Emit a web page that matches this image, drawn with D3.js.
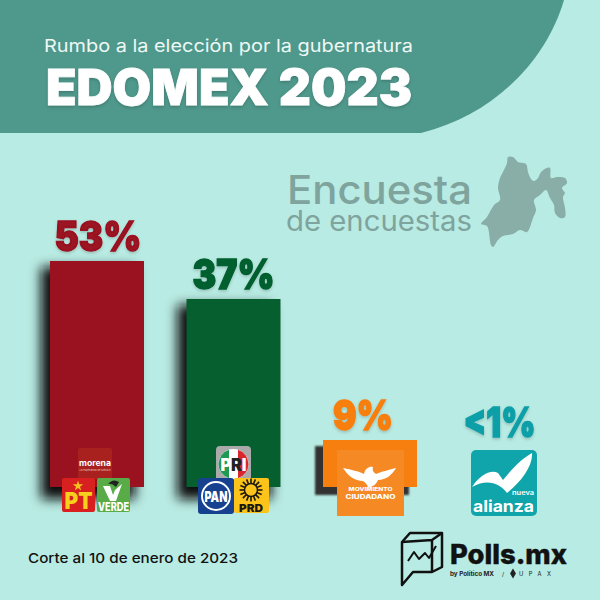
<!DOCTYPE html>
<html>
<head>
<meta charset="utf-8">
<script src="https://cdn.jsdelivr.net/npm/d3@7"></script>
<style>
html, body { margin: 0; padding: 0; background: #b8ebe3; }
svg { display: block; }
text { font-family: Inter, "Open Sans", sans-serif; }
</style>
</head>
<body>
<script>
var parties = ['morena', 'pri', 'mc', 'alianza'];
var values = [53, 37, 9, 0.5];
var labels = ['53%', '37%', '9%', '<1%'];

var barColors = ['#9a1220', '#065f2e', '#f77f0f', '#0f9fa8'];
var labelWidths = [87, 82, 60, 72];

var mapOutline = [[508,157],[513,157],[518,162],[526,164],[528,172],[531,179],[534,181],[538,178],[541,172],[547,168],[550,168],[551,178],[557,177],[565,178],[567,183],[562,188],[565,193],[563,197],[565,208],[565,217],[560,218],[555,213],[554,205],[550,198],[546,190],[540,195],[534,200],[536,210],[533,218],[527,232],[520,230],[513,234],[503,236],[498,240],[493,247],[491,245],[487,226],[481,224],[487,217],[494,205],[500,200],[498,188],[500,178],[503,172],[507,163]];

var width = 600, height = 600;

var svg = d3.select('body').append('svg')
	.attr('width', width)
	.attr('height', height);

var defs = svg.append('defs');
defs.append('filter').attr('id', 'soft')
	.attr('x', '-30%').attr('y', '-30%').attr('width', '160%').attr('height', '160%')
	.append('feGaussianBlur').attr('stdDeviation', 6);
defs.append('filter').attr('id', 'tight')
	.attr('x', '-30%').attr('y', '-30%').attr('width', '160%').attr('height', '160%')
	.append('feGaussianBlur').attr('stdDeviation', 1);
defs.append('filter').attr('id', 'textshadow')
	.append('feDropShadow').attr('dx', 0).attr('dy', 1.5).attr('stdDeviation', 1.5)
	.attr('flood-color', '#000').attr('flood-opacity', 0.2);

// header
svg.append('rect').attr('width', width).attr('height', height).attr('fill', '#b8ebe3');
svg.append('path')
	.attr('d', 'M0,0 H564 C547,58 497,114 421,133 H0 Z')
	.attr('fill', '#4f988c');

svg.append('text').attr('x', 44).attr('y', 52)
	.attr('font-size', 17.5).attr('fill', '#eef8f5')
	.attr('textLength', 369).attr('lengthAdjust', 'spacingAndGlyphs')
	.text('Rumbo a la elección por la gubernatura');
svg.append('text').attr('x', 46).attr('y', 105)
	.attr('font-size', 49).attr('font-weight', 900).attr('fill', '#fff')
	.attr('stroke', '#fff').attr('stroke-width', 0.8)
	.attr('textLength', 366).attr('lengthAdjust', 'spacingAndGlyphs')
	.attr('filter', 'url(#textshadow)')
	.text('EDOMEX 2023');

// encuesta de encuestas + mapa
svg.append('text').attr('x', 287).attr('y', 204)
	.attr('font-size', 40).attr('font-weight', 500).attr('fill', '#7fa39d')
	.attr('textLength', 185).attr('lengthAdjust', 'spacingAndGlyphs')
	.text('Encuesta');
svg.append('text').attr('x', 286).attr('y', 231)
	.attr('font-size', 28).attr('font-weight', 400).attr('fill', '#7fa39d')
	.attr('textLength', 186).attr('lengthAdjust', 'spacingAndGlyphs')
	.text('de encuestas');
svg.append('path')
	.attr('d', d3.line().curve(d3.curveCatmullRomClosed)(mapOutline))
	.attr('fill', '#88aea7');

// scales (the bars in the picture are not proportional, so y follows them piece by piece)
var x = d3.scaleBand().domain(parties).range([50, 553.5]).paddingInner(0.3114);
var y = d3.scaleLinear().domain([0, 9, 37, 53]).range([487, 440, 299, 261]);
var color = d3.scaleOrdinal(parties, barColors);
var labelShift = d3.scaleOrdinal(parties, [1, 0, -7, -7]);

var rows = parties.map(function(p, i) {
	return { party: p, value: values[i], label: labels[i], w: labelWidths[i] };
});
var bars = rows.filter(function(d) { return d.value >= 1; });

svg.selectAll('rect.shadow').data(bars).enter().append('rect')
	.attr('class', 'shadow')
	.attr('x', function(d) { return x(d.party) - (d.party == 'mc' ? 8 : 9); })
	.attr('y', function(d) { return y(d.value) + 6; })
	.attr('width', x.bandwidth())
	.attr('height', function(d) { return y(0) - y(d.value) + (d.party == 'mc' ? 2 : 6); })
	.attr('fill', function(d) { return d.party == 'mc' ? '#333' : '#111'; })
	.attr('filter', function(d) { return d.party == 'mc' ? 'url(#tight)' : 'url(#soft)'; });

svg.selectAll('rect.bar').data(bars).enter().append('rect')
	.attr('class', 'bar')
	.attr('x', function(d) { return x(d.party); })
	.attr('y', function(d) { return y(d.value); })
	.attr('width', x.bandwidth())
	.attr('height', function(d) { return y(0) - y(d.value); })
	.attr('fill', function(d) { return color(d.party); });

svg.selectAll('text.label').data(rows).enter().append('text')
	.attr('class', 'label')
	.attr('x', function(d) { return x(d.party) + x.bandwidth() / 2 + labelShift(d.party) - d.w / 2; })
	.attr('y', function(d) { return d.party == 'alianza' ? 437 : y(d.value) - 10; })
	.attr('font-size', 41).attr('font-weight', 900)
	.attr('fill', function(d) { return color(d.party); })
	.attr('stroke', function(d) { return color(d.party); })
	.attr('stroke-width', 1.4)
	.attr('textLength', function(d) { return d.w; })
	.attr('lengthAdjust', 'spacingAndGlyphs')
	.attr('filter', 'url(#textshadow)')
	.text(function(d) { return d.label; });

// logos
function box(g, x0, y0, w, h, fill, r) {
	return g.append('rect').attr('x', x0).attr('y', y0).attr('width', w).attr('height', h)
		.attr('rx', r).attr('fill', fill);
}
function word(g, x0, y0, size, fill, str, weight, len) {
	var t = g.append('text').attr('x', x0).attr('y', y0).attr('text-anchor', 'middle')
		.attr('font-size', size).attr('font-weight', weight || 800).attr('fill', fill).text(str);
	if (len) t.attr('textLength', len).attr('lengthAdjust', 'spacingAndGlyphs');
	return t;
}

var logos = svg.append('g');

// morena, PT, verde
box(logos, 78, 448, 34, 31, '#a8211f', 2);
word(logos, 95, 466, 8.5, '#fff', 'morena', 700, 32);
word(logos, 95, 471, 2.6, '#e8c8c8', 'La esperanza de México', 400, 31);
box(logos, 62, 478, 33, 34, '#d7201f', 2);
logos.append('path')
	.attr('d', d3.symbol().type(d3.symbolStar).size(34))
	.attr('transform', 'translate(78,486)').attr('fill', '#f6c21c');
word(logos, 78.5, 509, 23, '#f6d01c', 'PT', 900, 28);
box(logos, 97, 478, 33, 34, '#58ab47', 2);
logos.append('path').attr('d', 'M103,486 L110,501 L116,501 L122,484 L115,490 L113,495 L110,486 Z').attr('fill', '#fff');
logos.append('path').attr('d', 'M108,484 Q113,478 119,482 L116,487 Q112,483 108,484 Z').attr('fill', '#222');
word(logos, 113.5, 510.5, 11.5, '#fff', 'VERDE', 800, 31);

// PRI, PAN, PRD
box(logos, 216, 446, 35, 36, '#a9aaa9', 4);
logos.append('circle').attr('cx', 233.5).attr('cy', 464).attr('r', 15).attr('fill', '#fff');
logos.append('path').attr('d', 'M229,449.7 A15,15 0 0 0 229,478.3 Z').attr('fill', '#1f9a55');
logos.append('path').attr('d', 'M238,449.7 A15,15 0 0 1 238,478.3 Z').attr('fill', '#d8262c');
var priWord = word(logos, 233.5, 470.5, 17, '#fff', '', 900, 26);
priWord.append('tspan').text('P');
priWord.append('tspan').attr('fill', '#222').text('R');
priWord.append('tspan').text('I');
box(logos, 198, 478, 36, 36, '#16418f', 3);
logos.append('circle').attr('cx', 216).attr('cy', 496).attr('r', 15).attr('fill', '#fff');
logos.append('circle').attr('cx', 216).attr('cy', 496).attr('r', 13).attr('fill', '#16418f');
word(logos, 216, 501.5, 15, '#fff', 'PAN', 900, 23);
box(logos, 234, 478, 35, 35, '#fcc31a', 2);
var rays = d3.range(16).map(function(i) { return i * 22.5; });
logos.selectAll('line.ray').data(rays).enter().append('line')
	.attr('class', 'ray')
	.attr('x1', 251).attr('y1', 490)
	.attr('x2', 251).attr('y2', 478.5)
	.attr('stroke', '#1c1a10').attr('stroke-width', 1.6)
	.attr('transform', function(d) { return 'rotate(' + d + ' 251 490)'; });
logos.append('circle').attr('cx', 251).attr('cy', 490).attr('r', 6.5).attr('fill', '#fcc31a')
	.attr('stroke', '#1c1a10').attr('stroke-width', 1.5);
word(logos, 251, 511.5, 10.5, '#1c1a10', 'PRD', 900, 24);

// movimiento ciudadano
box(logos, 337, 450, 67, 66, '#f58a25', 0);
logos.append('path')
	.attr('d', 'M343,468 C352,470 358,471 364,474 C365,468 370,466 373,467 C372,470 373,472 376,474 C383,471 389,470 396,468 C392,475 386,480 378,480 C376,485 372,487 368,488 C368,485 366,483 363,481 C355,481 348,476 343,468 Z')
	.attr('fill', '#fff');
word(logos, 370.5, 491, 5.2, '#fff', 'MOVIMIENTO', 800, 44);
word(logos, 370.5, 498.5, 6.5, '#fff', 'CIUDADANO', 800, 50);

// nueva alianza
box(logos, 471, 450, 66, 66, '#10a5ab', 5);
logos.append('path')
	.attr('d', 'M472,487 C480,475 491,469 498,473 L503,480 C511,470 521,459 532,453 C533,466 521,482 507,493 C500,484 488,478 472,487 Z')
	.attr('fill', '#fff');
word(logos, 523, 495, 6, '#fff', 'nueva', 600, 22);
word(logos, 503.5, 512, 16, '#fff', 'alianza', 700, 61);

// footer
svg.append('text').attr('x', 28).attr('y', 563)
	.attr('font-size', 13.5).attr('font-weight', 500).attr('fill', '#111')
	.attr('textLength', 210).attr('lengthAdjust', 'spacingAndGlyphs')
	.text('Corte al 10 de enero de 2023');

var icon = svg.append('g').attr('fill', 'none').attr('stroke', '#111')
	.attr('stroke-width', 2.5).attr('stroke-linejoin', 'round');
icon.append('path').attr('d', 'M402,585 L402,542 L410,533 L442,533 L442,567 L432,572 L413,572 Z');
icon.append('path').attr('d', 'M402,542 L432,540 L442,533 M432,540 L432,572');
icon.append('path').attr('stroke-width', 2).attr('d', 'M408,561 L414,552 L419,559 L425,553 L429,558 L436,546');

svg.append('text').attr('x', 450).attr('y', 563.5)
	.attr('font-size', 27.5).attr('font-weight', 800).attr('fill', '#111')
	.attr('stroke', '#111').attr('stroke-width', 0.4)
	.attr('textLength', 117).attr('lengthAdjust', 'spacingAndGlyphs')
	.text('Polls.mx');
svg.append('text').attr('x', 450).attr('y', 576)
	.attr('font-size', 5.8).attr('font-weight', 700).attr('fill', '#222')
	.attr('textLength', 44).attr('lengthAdjust', 'spacingAndGlyphs')
	.text('by Político MX');
svg.append('text').attr('x', 502).attr('y', 576)
	.attr('font-size', 5.8).attr('fill', '#222').text('/');
svg.append('path')
	.attr('d', d3.symbol().type(d3.symbolDiamond).size(30))
	.attr('transform', 'translate(513,573.5)').attr('fill', '#222');
svg.append('text').attr('x', 519).attr('y', 576)
	.attr('font-size', 5.8).attr('font-weight', 400).attr('fill', '#222')
	.attr('textLength', 32).text('UPAX');
</script>
</body>
</html>
